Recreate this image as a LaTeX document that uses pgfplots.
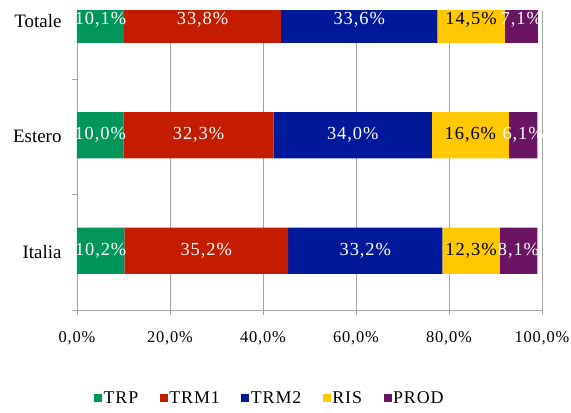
\documentclass[border=0pt]{standalone}
\usepackage{pgfplots}
\pgfplotsset{compat=1.18}
\usepackage{pgfplotstable}
\usepackage{fontspec}
\setmainfont{Liberation Serif}
\newfontfamily\spaced{Liberation Serif}[LetterSpace=5]
\definecolor{cTRP}{RGB}{0,150,90}
\definecolor{cTRM1}{RGB}{196,28,0}
\definecolor{cTRM2}{RGB}{0,24,154}
\definecolor{cRIS}{RGB}{255,200,0}
\definecolor{cPROD}{RGB}{106,20,100}
\definecolor{axgray}{RGB}{165,165,165}
\pgfplotstableread{
y TRP TRM1 TRM2 RIS PROD
0 10.2 35.2 33.2 12.3 8.1
1 10.0 32.3 34.0 16.6 6.1
2 10.1 33.8 33.6 14.5 7.1
}\data
% label positions: middle of each stacked segment
\pgfplotstablecreatecol[create col/expr={\thisrow{TRP}/2}]{mTRP}\data
\pgfplotstablecreatecol[create col/expr={\thisrow{TRP}+\thisrow{TRM1}/2}]{mTRM1}\data
\pgfplotstablecreatecol[create col/expr={\thisrow{TRP}+\thisrow{TRM1}+\thisrow{TRM2}/2}]{mTRM2}\data
\pgfplotstablecreatecol[create col/expr={\thisrow{TRP}+\thisrow{TRM1}+\thisrow{TRM2}+\thisrow{RIS}/2}]{mRIS}\data
\pgfplotstablecreatecol[create col/expr={\thisrow{TRP}+\thisrow{TRM1}+\thisrow{TRM2}+\thisrow{RIS}+\thisrow{PROD}/2}]{mPROD}\data
\pgfplotsset{
  base/.style={scale only axis, width=465bp, height=299bp,
    xmin=0, xmax=100, ymin=-0.5, ymax=2.089},
  lbl/.style={draw=none, mark=none, point meta=explicit,
    nodes near coords={\pgfmathprintnumber[assume math mode=true,fixed,fixed zerofill,precision=1,use comma]{\pgfplotspointmeta}\%},
    nodes near coords align=center,
    every node near coord/.style={anchor=center, text=#1, yshift=1.5bp,
      font=\spaced\fontsize{18.5}{20}\selectfont, inner sep=0pt}},
}
\begin{document}
\begin{tikzpicture}
\useasboundingbox (-77bp,-103bp) rectangle (494bp,310bp);
\begin{axis}[base,
  xbar stacked, bar width=0.4,
  axis x line=bottom, axis y line=left,
  axis line style={axgray, -},
  xtick={0,20,40,60,80,100},
  xticklabels={{0,0\%},{20,0\%},{40,0\%},{60,0\%},{80,0\%},{100,0\%}},
  xticklabel style={font=\spaced\fontsize{16.5}{19}\selectfont, yshift=-13bp},
  ytick={0,1,2}, yticklabels={Italia,Estero,Totale},
  yticklabel style={font=\fontsize{19}{22}\selectfont, xshift=-7bp},
  minor ytick={-0.5,0.5,1.5},
  major y tick style={draw=none},
  minor y tick style={axgray},
  x tick style={axgray},
  tick align=outside, major tick length=5bp, minor tick length=5bp,
  xmajorgrids, grid style={axgray, line width=0.6pt},
  clip=true,
  legend style={at={(0.03,-0.294)}, anchor=west, draw=none, fill=none,
    legend columns=-1, font=\spaced\fontsize{18}{20}\selectfont,
    /tikz/every even column/.append style={column sep=20bp},
    nodes={inner xsep=1.5bp}},
  legend image code/.code={\fill[#1, draw=none] (0bp,-4bp) rectangle (8bp,4bp);},
  seg/.style={fill=#1, draw=none, bar shift=1.5bp},
]
\addplot[seg=cTRP] table[x=TRP,y=y]{\data};
\addplot[seg=cTRM1] table[x=TRM1,y=y]{\data};
\addplot[seg=cTRM2] table[x=TRM2,y=y]{\data};
\addplot[seg=cRIS] table[x=RIS,y=y]{\data};
\addplot[seg=cPROD] table[x=PROD,y=y]{\data};
\legend{TRP,TRM1,TRM2,RIS,PROD}
\end{axis}
\begin{axis}[base, axis lines=none, xtick=\empty, ytick=\empty]
\addplot[lbl=white] table[x=mTRP,y=y,meta=TRP]{\data};
\addplot[lbl=white] table[x=mTRM1,y=y,meta=TRM1]{\data};
\addplot[lbl=white] table[x=mTRM2,y=y,meta=TRM2]{\data};
\addplot[lbl=black] table[x=mRIS,y=y,meta=RIS]{\data};
\addplot[lbl=white] table[x=mPROD,y=y,meta=PROD]{\data};
\end{axis}
\end{tikzpicture}
\end{document}
